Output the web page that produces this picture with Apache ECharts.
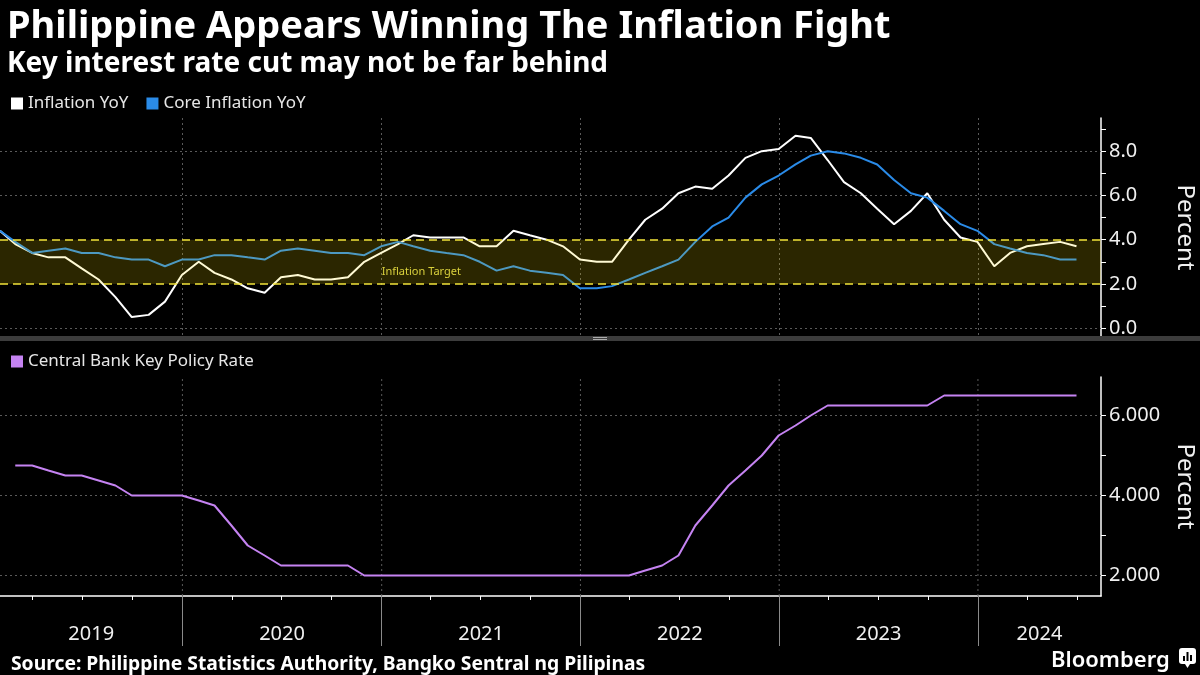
<!DOCTYPE html>
<html><head><meta charset="utf-8">
<script src="https://cdn.jsdelivr.net/npm/echarts@6/dist/echarts.min.js"></script>
<style>html,body{margin:0;padding:0;background:#000;}#c{width:1200px;height:675px;}</style>
</head><body><div id="c"></div>
<script>
// ---- data ----
const months = [
 '2019-01','2019-02','2019-03','2019-04','2019-05','2019-06','2019-07','2019-08','2019-09','2019-10','2019-11','2019-12',
 '2020-01','2020-02','2020-03','2020-04','2020-05','2020-06','2020-07','2020-08','2020-09','2020-10','2020-11','2020-12',
 '2021-01','2021-02','2021-03','2021-04','2021-05','2021-06','2021-07','2021-08','2021-09','2021-10','2021-11','2021-12',
 '2022-01','2022-02','2022-03','2022-04','2022-05','2022-06','2022-07','2022-08','2022-09','2022-10','2022-11','2022-12',
 '2023-01','2023-02','2023-03','2023-04','2023-05','2023-06','2023-07','2023-08','2023-09','2023-10','2023-11','2023-12',
 '2024-01','2024-02','2024-03','2024-04','2024-05','2024-06'];
const inflation = [
 4.4,3.8,3.4,3.2,3.2,2.7,2.2,1.4,0.5,0.6,1.2,2.4,
 3.0,2.5,2.2,1.8,1.6,2.3,2.4,2.2,2.2,2.3,3.0,3.4,
 3.8,4.2,4.1,4.1,4.1,3.7,3.7,4.4,4.2,4.0,3.7,3.1,
 3.0,3.0,4.0,4.9,5.4,6.1,6.4,6.3,6.9,7.7,8.0,8.1,
 8.7,8.6,7.6,6.6,6.1,5.4,4.7,5.3,6.1,4.9,4.1,3.9,
 2.8,3.4,3.7,3.8,3.9,3.7];
const coreInflation = [
 4.4,3.9,3.4,3.5,3.6,3.4,3.4,3.2,3.1,3.1,2.8,3.1,
 3.1,3.3,3.3,3.2,3.1,3.5,3.6,3.5,3.4,3.4,3.3,3.7,
 3.9,3.7,3.5,3.4,3.3,3.0,2.6,2.8,2.6,2.5,2.4,1.8,
 1.8,1.9,2.2,2.5,2.8,3.1,3.9,4.6,5.0,5.9,6.5,6.9,
 7.4,7.8,8.0,7.9,7.7,7.4,6.7,6.1,5.9,5.3,4.7,4.4,
 3.8,3.6,3.4,3.3,3.1,3.1];
const policyRate = [
 null,4.75,4.75,4.625,4.5,4.5,4.375,4.25,4.0,4.0,4.0,4.0,
 3.875,3.75,3.25,2.75,2.5,2.25,2.25,2.25,2.25,2.25,2.0,2.0,
 2.0,2.0,2.0,2.0,2.0,2.0,2.0,2.0,2.0,2.0,2.0,2.0,
 2.0,2.0,2.0,2.125,2.25,2.5,3.25,3.75,4.25,4.625,5.0,5.5,
 5.75,6.0,6.25,6.25,6.25,6.25,6.25,6.25,6.25,6.5,6.5,6.5,
 6.5,6.5,6.5,6.5,6.5,6.5];
const years = [2019,2020,2021,2022,2023,2024];
const topTickValues = [0,1,2,3,4,5,6,7,8,9];
const topLabelValues = [0,2,4,6,8];
const topGridValues = [0,6,8];
const bottomTickValues = [2,3,4,5,6];
const bottomLabelValues = [2,4,6];
const targetBand = [2,4];
const targetStart = '2021-01-01';

// ---- helpers ----
function monthEnd(s){const p=s.split('-').map(Number);return Date.UTC(p[0],p[1],0);}
function pairs(vals){return months.map((m,i)=>[monthEnd(m),vals[i]]);}
const xMin = monthEnd(months[0]);
const xMax = Date.UTC(2024,7,14);
const bottomMin = 1.4875, bottomMax = 6.9625;
const yearStarts = years.slice(1).map(y=>Date.UTC(y,0,1));
const quarterTicks = [];
years.forEach(y=>[0,3,6,9].forEach(m=>{const t=Date.UTC(y,m,1); if(t>xMin&&t<=xMax) quarterTicks.push(t);}));
const yearLabelPos = years.map(y=>{const a=Math.max(Date.UTC(y,0,1),xMin),b=Math.min(Date.UTC(y+1,0,1),xMax);return (a+b)/2;});
const FONT = 'Noto Sans';
const gridLine = {color:'#5a5a5a', type:[2,3], width:1};

// grid-line segments for the lower panel (drawn as a line series through the axes' own scales)
const bottomGridSegs = [];
bottomLabelValues.forEach(v=>{bottomGridSegs.push([xMin,v],[xMax,v],[xMax,null]);});
yearStarts.forEach(t=>{bottomGridSegs.push([t,bottomMin],[t,bottomMax],[t,null]);});

const chart = echarts.init(document.getElementById('c'));
chart.setOption({
  backgroundColor:'#000',
  animation:false,
  textStyle:{fontFamily:FONT},
  title:[
    {text:'Philippine Appears Winning The Inflation Fight', left:2, top:3, textStyle:{color:'#fff', fontSize:38, fontWeight:'bold', fontFamily:FONT}},
    {text:'Key interest rate cut may not be far behind', left:2, top:45, textStyle:{color:'#fff', fontSize:28, fontWeight:'bold', fontFamily:FONT}},
    {text:'Source: Philippine Statistics Authority, Bangko Sentral ng Pilipinas', left:6, top:650, textStyle:{color:'#fff', fontSize:19.3, fontWeight:'bold', fontFamily:FONT}},
    {text:'Bloomberg', left:1046, top:645, textStyle:{color:'#fff', fontSize:22, fontWeight:600, fontFamily:FONT}}
  ],
  legend:[
    {data:['Inflation YoY','Core Inflation YoY'], left:6, top:90, icon:'rect', itemWidth:12, itemHeight:12, itemGap:18, selectedMode:false,
     textStyle:{color:'#e6e6e6', fontSize:17, fontFamily:FONT}},
    {data:['Central Bank Key Policy Rate'], left:6, top:348, icon:'rect', itemWidth:12, itemHeight:12, selectedMode:false,
     textStyle:{color:'#e6e6e6', fontSize:17, fontFamily:FONT}}
  ],
  grid:[
    {left:0, right:99, top:118, height:219, outerBoundsMode:'none', containLabel:false},
    {left:0, right:99, top:377, height:219, outerBoundsMode:'none', containLabel:false}
  ],
  xAxis:[
    {gridIndex:0, type:'value', min:xMin, max:xMax, axisLine:{show:false},
     axisTick:{show:false, customValues:yearStarts}, axisLabel:{show:false}, splitLine:{show:true, lineStyle:gridLine}},
    {gridIndex:1, type:'value', position:'bottom', min:xMin, max:xMax,
     axisLine:{show:true, lineStyle:{color:'#fff', width:1.5}},
     axisTick:{show:true, customValues:quarterTicks, length:4, lineStyle:{color:'#fff'}},
     axisLabel:{show:true, customValues:yearLabelPos, margin:28, color:'#f0f0f0', fontSize:20, fontFamily:FONT,
       formatter:v=>String(new Date(v).getUTCFullYear())},
     splitLine:{show:false}},
    {gridIndex:1, type:'value', position:'bottom', offset:0, min:xMin, max:xMax, axisLine:{show:false},
     axisTick:{show:true, customValues:yearStarts, length:50, lineStyle:{color:'#8a8a8a'}},
     axisLabel:{show:false}, splitLine:{show:false}}
  ],
  yAxis:[
    {gridIndex:0, type:'value', position:'right', min:-0.4, max:9.5,
     axisLine:{show:true, lineStyle:{color:'#fff', width:1.5}},
     axisTick:{show:true, customValues:topTickValues, length:5, lineStyle:{color:'#fff'}},
     axisLabel:{customValues:topLabelValues, formatter:v=>v.toFixed(1), color:'#f0f0f0', fontSize:20, margin:8, fontFamily:FONT},
     splitLine:{show:false},
     name:'Percent', nameLocation:'middle', nameRotate:-90, nameGap:72, nameTextStyle:{color:'#f0f0f0', fontSize:24, fontFamily:FONT}},
    {gridIndex:1, type:'value', position:'right', min:bottomMin, max:bottomMax,
     axisLine:{show:true, lineStyle:{color:'#fff', width:1.5}},
     axisTick:{show:true, customValues:bottomTickValues, length:5, lineStyle:{color:'#fff'}},
     axisLabel:{customValues:bottomLabelValues, formatter:v=>v.toFixed(3), color:'#f0f0f0', fontSize:20, margin:8, fontFamily:FONT},
     splitLine:{show:false},
     name:'Percent', nameLocation:'middle', nameRotate:-90, nameGap:72, nameTextStyle:{color:'#f0f0f0', fontSize:24, fontFamily:FONT}}
  ],
  series:[
    {name:'Inflation YoY', type:'line', xAxisIndex:0, yAxisIndex:0, data:pairs(inflation), showSymbol:false,
     color:'#ffffff', lineStyle:{width:2}, z:3,
     markLine:{silent:true, z:1, symbol:['none','none'], label:{show:false}, lineStyle:gridLine,
       data:topGridValues.map(v=>({yAxis:v}))}},
    {name:'Core Inflation YoY', type:'line', xAxisIndex:0, yAxisIndex:0, data:pairs(coreInflation), showSymbol:false,
     color:'#2a8be8', lineStyle:{width:2}, z:3,
     markArea:{silent:true, z:4, itemStyle:{color:'rgba(255,226,0,0.17)'}, data:[[{yAxis:targetBand[0]},{yAxis:targetBand[1]}]]},
     markLine:{silent:true, z:5, symbol:['none','none'], label:{show:false}, lineStyle:{color:'#f2e43a', type:[8,5], width:1.5},
       data:targetBand.map(v=>({yAxis:v}))},
     markPoint:{silent:true, z:5, data:[{coord:[Date.parse(targetStart), 2.55], symbol:'circle', symbolSize:0,
       label:{show:true, formatter:'Inflation Target', position:'right', distance:0, color:'#d9d03c', fontSize:11, fontFamily:FONT}}]}},
    {name:'lowerGrid', type:'line', xAxisIndex:1, yAxisIndex:1, data:bottomGridSegs, showSymbol:false, silent:true,
     connectNulls:false, clip:true, color:'#5a5a5a', lineStyle:{color:'#5a5a5a', type:[2,3], width:1}, z:1, tooltip:{show:false}},
    {name:'Central Bank Key Policy Rate', type:'line', xAxisIndex:1, yAxisIndex:1, data:pairs(policyRate), showSymbol:false,
     color:'#c583f2', lineStyle:{width:2}, z:3}
  ],
  graphic:[
    {type:'rect', shape:{x:0, y:336, width:1200, height:5}, style:{fill:'#3c3c3c'}, z:100},
    {type:'line', shape:{x1:593, y1:337.5, x2:607, y2:337.5}, style:{stroke:'#aaa', lineWidth:1}, z:101},
    {type:'line', shape:{x1:593, y1:339.5, x2:607, y2:339.5}, style:{stroke:'#aaa', lineWidth:1}, z:101},
    {type:'group', left:1179, top:648, z:100, children:[
      {type:'rect', shape:{x:0, y:0, width:17, height:16, r:3}, style:{fill:'#fff'}},
      {type:'polygon', shape:{points:[[6,16],[11,16],[8.5,20]]}, style:{fill:'#fff'}},
      {type:'rect', shape:{x:4, y:8, width:2, height:5}, style:{fill:'#000'}},
      {type:'rect', shape:{x:7.5, y:4, width:2, height:9}, style:{fill:'#000'}},
      {type:'rect', shape:{x:11, y:7, width:2, height:6}, style:{fill:'#000'}}
    ]}
  ]
});
</script></body></html>
